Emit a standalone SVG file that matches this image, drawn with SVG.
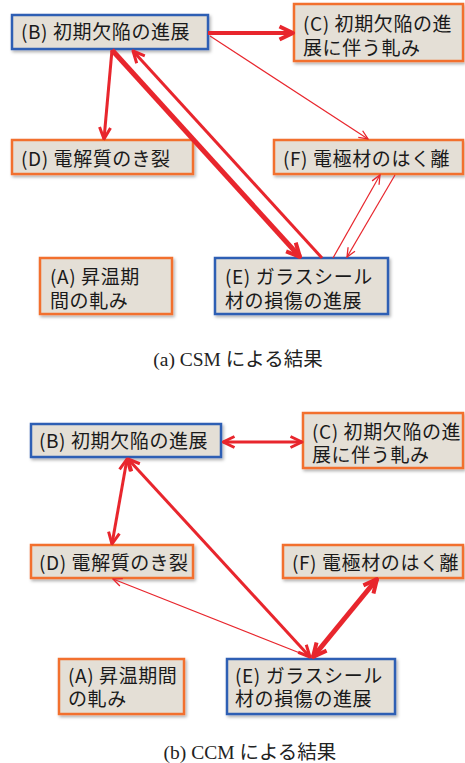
<svg xmlns="http://www.w3.org/2000/svg" width="465" height="763" viewBox="0 0 465 763">
<defs>
<style>
.box{fill:#e4dfd6;stroke-width:2.5;filter:url(#sh)}
.blue{stroke:#2d5fb4}
.orange{stroke:#f2702e}
.t{font-family:"Noto Sans CJK JP","Noto Sans",sans-serif;font-size:19px;letter-spacing:0.6px;fill:#1a1a1a}
.cap{font-family:"Liberation Serif","Noto Sans CJK JP",serif;font-size:19.5px;fill:#222}
.c{fill:none;stroke:#e8262d;stroke-linecap:butt}
</style>
<filter id="sh" x="-10%" y="-10%" width="125%" height="140%">
<feDropShadow dx="1.5" dy="2" stdDeviation="1.5" flood-color="#000" flood-opacity="0.3"/>
</filter>
<marker id="aS" markerUnits="userSpaceOnUse" markerWidth="11" markerHeight="11" viewBox="0 0 11 11" refX="10" refY="5.5" orient="auto-start-reverse">
<path d="M1,1.5 L10,5.5 L1,9.5" fill="none" stroke="#e8262d" stroke-width="1.3"/>
</marker>
<marker id="aM" markerUnits="userSpaceOnUse" markerWidth="15" markerHeight="15" viewBox="0 0 15 15" refX="13.5" refY="7.5" orient="auto-start-reverse">
<path d="M2,2 L13.5,7.5 L2,13" fill="none" stroke="#e8262d" stroke-width="3" stroke-linejoin="round"/>
</marker>
<marker id="aL" markerUnits="userSpaceOnUse" markerWidth="18" markerHeight="18" viewBox="0 0 18 18" refX="16" refY="9" orient="auto-start-reverse">
<path d="M2.5,2.5 L16,9 L2.5,15.5" fill="none" stroke="#e8262d" stroke-width="4" stroke-linejoin="round"/>
</marker>
</defs>
<rect width="465" height="763" fill="#fff"/>

<!-- Panel (a) nodes -->
<g id="a-B"><rect class="box blue" x="12" y="15" width="196" height="34"/><text class="t" x="21" y="39">(B) 初期欠陥の進展</text></g>
<g id="a-C"><rect class="box orange" x="294" y="4" width="169" height="57"/><text class="t"><tspan x="303" y="31">(C) 初期欠陥の進</tspan><tspan x="303" y="55">展に伴う軋み</tspan></text></g>
<g id="a-D"><rect class="box orange" x="12" y="140" width="181" height="34"/><text class="t" x="21" y="166">(D) 電解質のき裂</text></g>
<g id="a-F"><rect class="box orange" x="274" y="140" width="189" height="34"/><text class="t" x="283" y="166">(F) 電極材のはく離</text></g>
<g id="a-A"><rect class="box orange" x="40" y="258" width="132" height="56"/><text class="t"><tspan x="50" y="284">(A) 昇温期</tspan><tspan x="50" y="308">間の軋み</tspan></text></g>
<g id="a-E"><rect class="box blue" x="215" y="258" width="173" height="56"/><text class="t"><tspan x="225" y="284">(E) ガラスシール</tspan><tspan x="225" y="308">材の損傷の進展</tspan></text></g>

<!-- Panel (b) nodes -->
<g id="b-B"><rect class="box blue" x="31" y="424" width="190" height="33"/><text class="t" x="39" y="448">(B) 初期欠陥の進展</text></g>
<g id="b-C"><rect class="box orange" x="303" y="413" width="160" height="55"/><text class="t"><tspan x="312" y="439">(C) 初期欠陥の進</tspan><tspan x="312" y="462">展に伴う軋み</tspan></text></g>
<g id="b-D"><rect class="box orange" x="31" y="545" width="162" height="33"/><text class="t" x="39" y="570">(D) 電解質のき裂</text></g>
<g id="b-F"><rect class="box orange" x="283" y="545" width="180" height="33"/><text class="t" x="292" y="570">(F) 電極材のはく離</text></g>
<g id="b-A"><rect class="box orange" x="59" y="659" width="125" height="55"/><text class="t"><tspan x="68" y="683">(A) 昇温期間</tspan><tspan x="68" y="706">の軋み</tspan></text></g>
<g id="b-E"><rect class="box blue" x="227" y="659" width="168" height="55"/><text class="t"><tspan x="235" y="683">(E) ガラスシール</tspan><tspan x="235" y="706">材の損傷の進展</tspan></text></g>

<!-- connectors -->
<g id="connectors">
<path class="c" d="M208,33 L293,33" stroke-width="4" marker-end="url(#aL)"/>
<path class="c" d="M210,36 L368,139" stroke-width="1.2" marker-end="url(#aS)"/>
<path class="c" d="M112,50 L104,139" stroke-width="3" marker-end="url(#aM)"/>
<path class="c" d="M112,50 L300,257" stroke-width="5" marker-end="url(#aL)"/>
<path class="c" d="M322,258 L133,51" stroke-width="3" marker-end="url(#aM)"/>
<path class="c" d="M333,258 L380,175" stroke-width="1.2" marker-end="url(#aS)"/>
<path class="c" d="M395,175 L347,257" stroke-width="1.2" marker-end="url(#aS)"/>

<path class="c" d="M223,442 L302,442" stroke-width="3" marker-start="url(#aM)" marker-end="url(#aM)"/>
<path class="c" d="M127,459 L112,544" stroke-width="3" marker-start="url(#aM)" marker-end="url(#aM)"/>
<path class="c" d="M128,459 L310,657" stroke-width="3" marker-start="url(#aM)" marker-end="url(#aM)"/>
<path class="c" d="M310,657 L113,579" stroke-width="1.2" marker-end="url(#aS)"/>
<path class="c" d="M313,657 L377,579" stroke-width="5" marker-start="url(#aL)" marker-end="url(#aL)"/>
</g>

<text class="cap" x="238" y="366" text-anchor="middle">(a) CSM による結果</text>
<text class="cap" x="250" y="759" text-anchor="middle">(b) CCM による結果</text>
</svg>
